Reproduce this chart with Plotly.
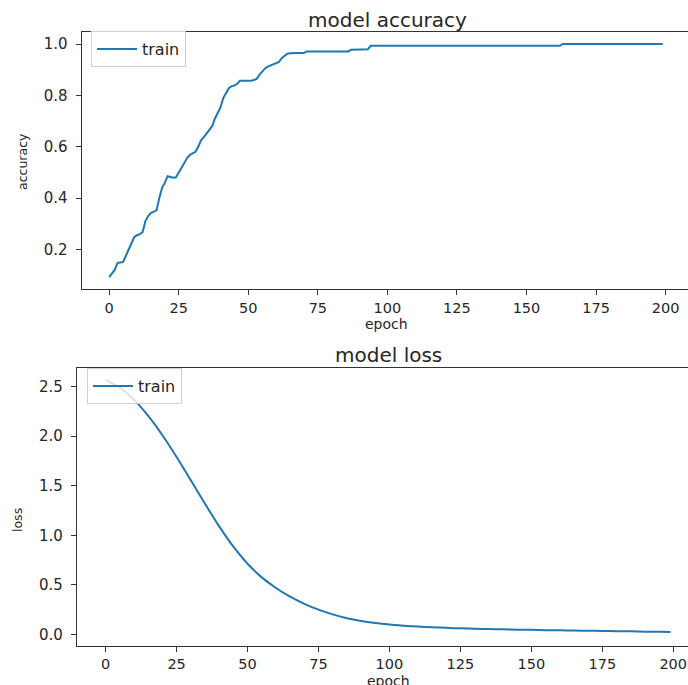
import plotly.graph_objects as go

# ---------------- data ----------------
acc_epochs = list(range(200))
accuracy = [
    0.092, 0.105, 0.121, 0.147, 0.149, 0.151, 0.175, 0.198, 0.225, 0.248,
    0.255, 0.259, 0.267, 0.310, 0.330, 0.342, 0.347, 0.352, 0.400, 0.440,
    0.460, 0.485, 0.482, 0.479, 0.481, 0.500, 0.520, 0.540, 0.556, 0.568,
    0.575, 0.580, 0.600, 0.625, 0.637, 0.650, 0.665, 0.680, 0.710, 0.735,
    0.753, 0.790, 0.812, 0.828, 0.836, 0.838, 0.845, 0.857, 0.857, 0.857,
    0.857, 0.857, 0.860, 0.864, 0.880, 0.895, 0.905, 0.912, 0.916, 0.922,
    0.925, 0.930, 0.945, 0.955, 0.962, 0.964, 0.965, 0.965, 0.965, 0.965,
    0.965, 0.971, 0.971, 0.971, 0.971, 0.971, 0.971, 0.971, 0.971, 0.971,
    0.971, 0.971, 0.971, 0.971, 0.971, 0.971, 0.971, 0.978, 0.978, 0.978,
    0.978, 0.978, 0.978, 0.980, 0.993, 0.993, 0.993, 0.993, 0.993, 0.993,
    0.993, 0.993, 0.993, 0.993, 0.993, 0.993, 0.993, 0.993, 0.993, 0.993,
    0.993, 0.993, 0.993, 0.993, 0.993, 0.993, 0.993, 0.993, 0.993, 0.993,
    0.993, 0.993, 0.993, 0.993, 0.993, 0.993, 0.993, 0.993, 0.993, 0.993,
    0.993, 0.993, 0.993, 0.993, 0.993, 0.993, 0.993, 0.993, 0.993, 0.993,
    0.993, 0.993, 0.993, 0.993, 0.993, 0.993, 0.993, 0.993, 0.993, 0.993,
    0.993, 0.993, 0.993, 0.993, 0.993, 0.993, 0.993, 0.993, 0.993, 0.993,
    0.993, 0.993, 0.993, 1.000, 1.000, 1.000, 1.000, 1.000, 1.000, 1.000,
    1.000, 1.000, 1.000, 1.000, 1.000, 1.000, 1.000, 1.000, 1.000, 1.000,
    1.000, 1.000, 1.000, 1.000, 1.000, 1.000, 1.000, 1.000, 1.000, 1.000,
    1.000, 1.000, 1.000, 1.000, 1.000, 1.000, 1.000, 1.000, 1.000, 1.000,
]

loss_epochs = [0, 5, 10, 15, 20, 25, 30, 35, 40, 45, 50, 55, 60, 65, 70, 75,
               80, 85, 90, 95, 100, 105, 110, 115, 120, 125, 130, 135, 140,
               145, 150, 155, 160, 165, 170, 175, 180, 185, 190, 195, 199]
loss = [2.57, 2.49, 2.37, 2.205, 2.01, 1.79, 1.555, 1.318, 1.09, 0.885,
        0.713, 0.575, 0.468, 0.380, 0.308, 0.249, 0.201, 0.163, 0.135,
        0.114, 0.098, 0.087, 0.078, 0.071, 0.065, 0.060, 0.056, 0.053,
        0.050, 0.047, 0.045, 0.042, 0.040, 0.038, 0.036, 0.034, 0.032,
        0.030, 0.027, 0.025, 0.023]

x_ticks = [0, 25, 50, 75, 100, 125, 150, 175, 200]
acc_ticks = [0.2, 0.4, 0.6, 0.8, 1.0]
loss_ticks = [0.0, 0.5, 1.0, 1.5, 2.0, 2.5]

# ---------------- figure ----------------
W, H = 688, 685
C0 = "#1f77b4"
FONT = "DejaVu Sans"
AX = "#333333"
TXT = "#262626"

fig = go.Figure()
fig.add_trace(go.Scatter(x=acc_epochs, y=accuracy, mode="lines", name="train",
                         line=dict(color=C0, width=2), xaxis="x", yaxis="y",
                         legend="legend"))
fig.add_trace(go.Scatter(x=loss_epochs, y=loss, mode="lines", name="train",
                         line=dict(color=C0, width=2, shape="spline", smoothing=0.6),
                         xaxis="x2", yaxis="y2", legend="legend2"))

axis_common = dict(showline=True, linecolor=AX, linewidth=1.2, ticks="outside",
                   ticklen=5, tickwidth=1.2, tickcolor=AX, showgrid=False,
                   zeroline=False, tickfont=dict(family=FONT, size=15, color=TXT))
xaxis_common = dict(axis_common, tickfont=dict(family=FONT, size=14.5, color=TXT))

legend_common = dict(xanchor="left", yanchor="top", bordercolor="#d0d0d0",
                     borderwidth=1, bgcolor="rgba(255,255,255,0.8)",
                     itemwidth=40, entrywidth=78, entrywidthmode="pixels",
                     font=dict(family=FONT, size=16, color=TXT))

fig.update_layout(
    width=W, height=H,
    margin=dict(l=0, r=0, t=0, b=0),
    paper_bgcolor="white", plot_bgcolor="white",
    xaxis=dict(domain=[81.6 / W, 1], range=[-9.93, 208.06], tickvals=x_ticks,
               anchor="y", mirror=True, **xaxis_common),
    yaxis=dict(domain=[1 - 289.3 / H, 1 - 31.7 / H], range=[0.0444, 1.048],
               tickvals=acc_ticks, ticktext=[f"{v:.1f}" for v in acc_ticks],
               anchor="x", ticklabelstandoff=5, **axis_common),
    xaxis2=dict(domain=[77 / W, 1], range=[-10.1, 205.2], tickvals=x_ticks,
                anchor="y2", mirror=True, **xaxis_common),
    yaxis2=dict(domain=[1 - 645.7 / H, 1 - 368.3 / H], range=[-0.115, 2.686],
                tickvals=loss_ticks, ticktext=[f"{v:.1f}" for v in loss_ticks],
                anchor="x2", ticklabelstandoff=5, **axis_common),
    legend=dict(x=91 / W, y=1 - 31 / H, **legend_common),
    legend2=dict(x=87 / W, y=1 - 368 / H, **legend_common),
    showlegend=True,
)

def ann(text, x, y, size, angle=0):
    fig.add_annotation(text=text, x=x / W, y=1 - y / H, xref="paper", yref="paper",
                       showarrow=False, textangle=angle, xanchor="center",
                       yanchor="middle", font=dict(family=FONT, size=size, color=TXT))

ann("model accuracy", 387, 20, 20)
ann("model loss", 388, 355, 20)
ann("epoch", 386, 324, 14)
ann("epoch", 388, 681, 14)
ann("accuracy", 22, 162, 12.5, -90)
ann("loss", 17, 520, 12.5, -90)

fig.write_html("out.html", config={"displayModeBar": False},
               post_script="document.body.style.margin='0';document.body.style.overflow='hidden';")
